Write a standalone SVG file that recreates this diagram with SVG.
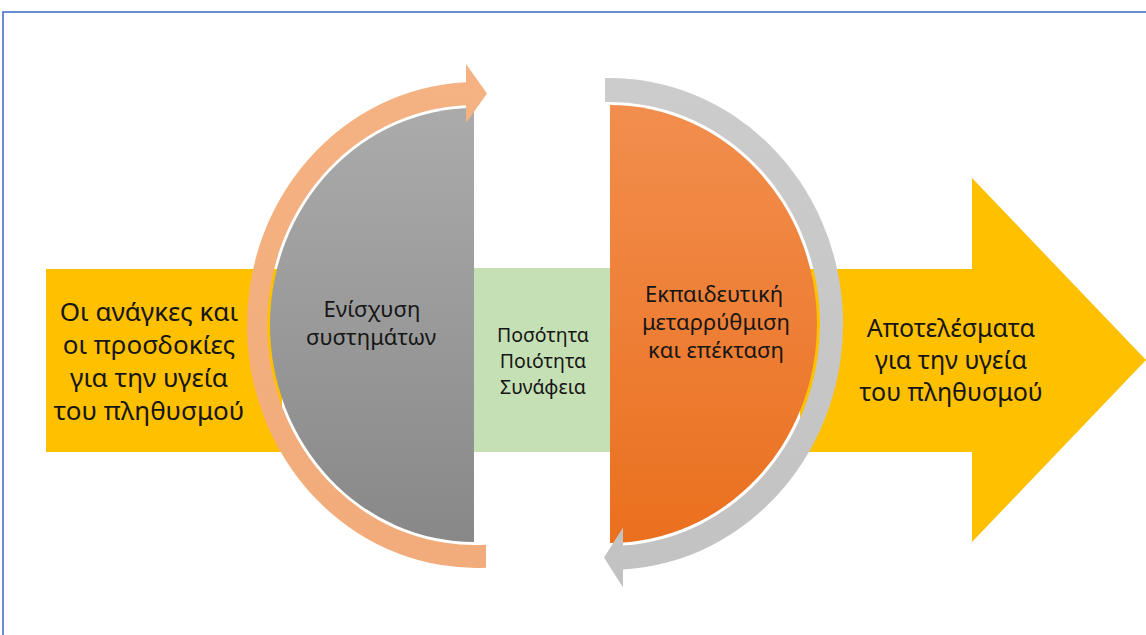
<svg xmlns="http://www.w3.org/2000/svg" width="1146" height="635" viewBox="0 0 1146 635">
  <defs>
    <linearGradient id="grayFill" x1="0" y1="0" x2="0" y2="1">
      <stop offset="0" stop-color="#ABABAB"/>
      <stop offset="1" stop-color="#888888"/>
    </linearGradient>
    <linearGradient id="orangeFill" x1="0" y1="0" x2="0" y2="1">
      <stop offset="0" stop-color="#F28E4E"/>
      <stop offset="1" stop-color="#EA701E"/>
    </linearGradient>
    <linearGradient id="peachRing" x1="0" y1="0" x2="0" y2="1">
      <stop offset="0" stop-color="#F5B282"/>
      <stop offset="1" stop-color="#F2AB7A"/>
    </linearGradient>
    <linearGradient id="silverRing" x1="0" y1="0" x2="0" y2="1">
      <stop offset="0" stop-color="#CCCCCC"/>
      <stop offset="1" stop-color="#C2C2C2"/>
    </linearGradient>
    <style>
      .lbl { font-family: "Noto Sans", "Open Sans", sans-serif; fill: #161616; text-anchor: middle; }
      .big { font-size: 26px; }
      .out { font-size: 25px; }
      .mid { font-size: 22px; }
      .small { font-size: 19.5px; }
      .band { fill: #FFC000; }
    </style>
  </defs>

  <rect width="1146" height="635" fill="#FFFFFF"/>
  <!-- frame -->
  <rect x="3" y="12" width="1160" height="640" fill="none" stroke="#4472C4" stroke-width="1.6"/>

  <!-- input band -->
  <g id="needs">
    <rect class="band" x="46" y="269" width="236" height="183"/>
    <text class="lbl big" x="149" y="321">Οι ανάγκες και</text>
    <text class="lbl big" x="149" y="354">οι προσδοκίες</text>
    <text class="lbl big" x="149" y="387">για την υγεία</text>
    <text class="lbl big" x="149" y="420">του πληθυσμού</text>
  </g>

  <!-- outcome arrow -->
  <g id="outcomes">
    <polygon class="band" points="800,269 972,269 972,178 1146,360 972,542 972,452 800,452"/>
  </g>

  <!-- central box -->
  <g id="qqr">
    <rect x="473" y="268" width="139" height="184" fill="#C5E0B4"/>
    <text class="lbl small" x="543" y="342">Ποσότητα</text>
    <text class="lbl small" x="543" y="368">Ποιότητα</text>
    <text class="lbl small" x="543" y="394">Συνάφεια</text>
  </g>

  <!-- left half: systems strengthening -->
  <g id="systems">
    <path d="M474,108 A204,217 0 0 0 474,542 Z" fill="url(#grayFill)"/>
    <text class="lbl mid" x="372" y="317">Ενίσχυση</text>
    <text class="lbl mid" x="371" y="345">συστημάτων</text>
  </g>

  <!-- right half: education reform -->
  <g id="education">
    <path d="M610,105 A207,219 0 0 1 610,543 Z" fill="url(#orangeFill)"/>
    <text class="lbl mid" x="714" y="302">Εκπαιδευτική</text>
    <text class="lbl mid" x="716" y="330">μεταρρύθμιση</text>
    <text class="lbl mid" x="716" y="358">και επέκταση</text>
  </g>

  <!-- circular arrows -->
  <g id="connectors">
    <path d="M486,567.7 A229,243 0 1 1 466,82.15 L466,64 L487,93.5 L466,123 L466,105.16 A207,220 0 1 0 486,544.63 Z" fill="url(#peachRing)"/>
    <path d="M605,78.06 A233,246 0 0 1 623,569.62 L623,587.6 L604,557.6 L623,527.6 L623,545.57 A210,222 0 0 0 605,102.06 Z" fill="url(#silverRing)"/>
  </g>

  <g id="outcomes-label">
    <text class="lbl out" x="951" y="337">Αποτελέσματα</text>
    <text class="lbl out" x="951" y="369">για την υγεία</text>
    <text class="lbl out" x="951" y="401">του πληθυσμού</text>
  </g>
</svg>
